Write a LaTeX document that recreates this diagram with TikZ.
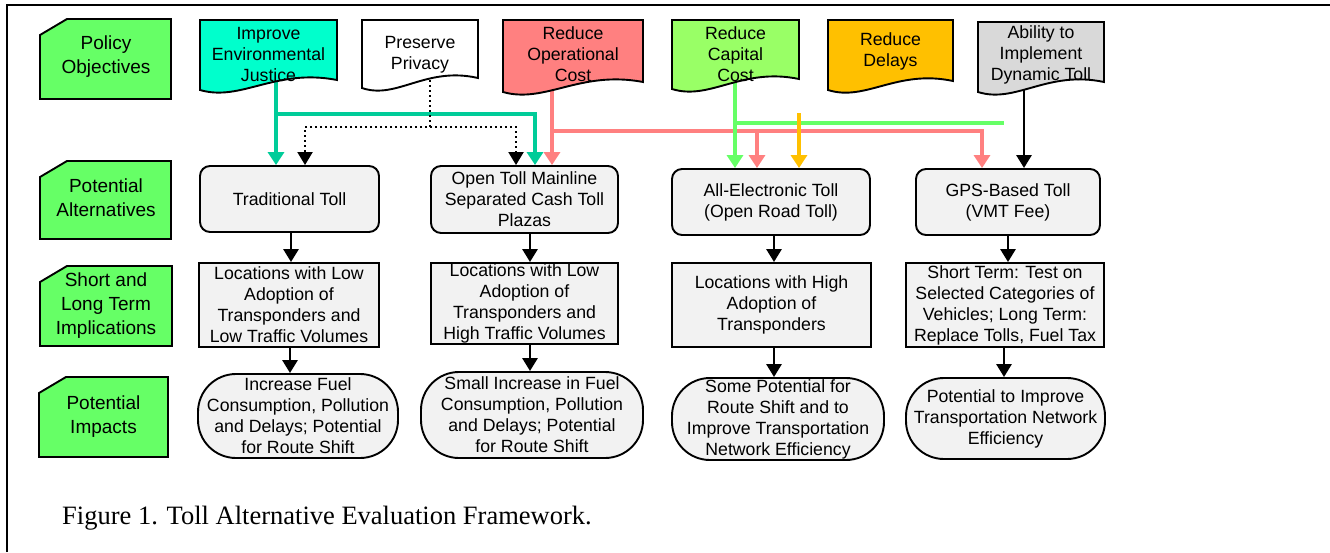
\documentclass[tikz,border=0pt]{standalone}
\usepackage{fontspec}
\setmainfont{Liberation Sans}
\newfontfamily\capfont{Liberation Serif}
\usetikzlibrary{arrows.meta,calc}
\pgfdeclarelayer{bg}
\pgfsetlayers{bg,main}
\definecolor{labgreen}{RGB}{102,255,102}
\definecolor{tealfill}{RGB}{0,255,204}
\definecolor{tealline}{RGB}{0,204,153}
\definecolor{pinkc}{RGB}{255,128,128}
\definecolor{capgreen}{RGB}{153,255,102}
\definecolor{greenline}{RGB}{102,255,102}
\definecolor{orangec}{RGB}{255,192,0}
\definecolor{greyc}{RGB}{217,217,217}
\definecolor{boxfill}{RGB}{242,242,242}
\newcommand{\cardshape}[4]{\filldraw[outline,fill=labgreen] (#1,{#2+16}) -- ({#1+27},#2) -- (#3,#2) -- (#3,#4) -- (#1,#4) -- cycle;}
\newcommand{\docshape}[6]{\filldraw[outline,fill=#6] (#1,#3) -- (#2,#3) -- (#2,#4) .. controls ({#1+0.55*(#2-#1)},{#4-12}) and ({#1+0.3*(#2-#1)},{#5+12}) .. (#1,#5) -- cycle;}
\begin{document}
\begin{tikzpicture}[x=1pt,y=-1pt,
  outline/.style={draw=black,line width=1.9pt},
  labtext/.style={align=center,inner sep=0pt,font=\fontsize{19}{24}\selectfont},
  bodytext/.style={align=center,inner sep=0pt,font=\fontsize{17.7}{21}\selectfont},
  altbox/.style={outline,fill=boxfill,rounded corners=10pt,bodytext},
  implbox/.style={outline,fill=boxfill,bodytext},
  impbox/.style={outline,fill=boxfill,rounded corners=38pt,bodytext},
  arr/.style={line width=3.4pt,-{Triangle[length=13pt,width=16pt]}},
  blackarr/.style={line width=2.8pt,-{Triangle[length=13pt,width=15pt]}},
  dotarr/.style={line width=2pt,dash pattern=on 2pt off 3pt,-{Triangle[length=13pt,width=15pt,sep=0pt]}},
]
\useasboundingbox (0,0) rectangle (1330,552);
\draw[line width=2.2pt] (7,552) -- (7,5) -- (1330,5);

% left labels
\cardshape{40}{19}{171}{99}
\cardshape{40}{161}{171}{239}
\cardshape{40}{266}{172}{346}
\cardshape{39}{377}{168}{457}
\node[labtext] (lpo) at (106,57) {Policy\\Objectives};
\node[labtext] (lpa) at (106,198) {Potential\\Alternatives};
\node[labtext] (lsl) at (106,306) {Short and\\Long Term\\Implications};
\node[labtext] (lpi) at (103.5,417) {Potential\\Impacts};

% objectives
\docshape{200}{337}{20}{80}{90}{tealfill}
\docshape{362}{478}{20}{78}{88}{white}
\docshape{503}{643}{20}{82}{92}{pinkc}
\docshape{672}{799}{20}{79}{89}{capgreen}
\docshape{828}{953}{20}{81}{90}{orangec}
\docshape{978}{1104}{22}{82}{92}{greyc}
\node[bodytext] (imp) at (268.5,54) {Improve\\Environmental\\Justice};
\node[bodytext] (pp) at (420,55) {Preserve\\Privacy};
\node[bodytext] (op) at (573,54) {Reduce\\Operational\\Cost};
\node[bodytext] (cc) at (735.5,54) {Reduce\\Capital\\Cost};
\node[bodytext] (rd) at (890.5,51) {Reduce\\Delays};
\node[bodytext] (ab) at (1041,55) {Ability to\\Implement\\Dynamic Toll};

% alternatives
\node[altbox,minimum width=179pt,minimum height=66pt] (a1) at (289.5,199) {Traditional Toll};
\node[altbox,minimum width=187pt,minimum height=67pt] (a2) at (524.5,199.5) {Open Toll Mainline\\Separated Cash Toll\\Plazas};
\node[altbox,minimum width=198pt,minimum height=66pt] (a3) at (771,202) {All-Electronic Toll\\(Open Road Toll)};
\node[altbox,minimum width=184pt,minimum height=66pt] (a4) at (1008,202) {GPS-Based Toll\\(VMT Fee)};

% implications
\node[implbox,minimum width=180pt,minimum height=84pt] (b1) at (289,305) {Locations with Low\\Adoption of\\Transponders and\\Low Traffic Volumes};
\node[implbox,minimum width=187pt,minimum height=81pt] (b2) at (524.5,303.5) {Locations with Low\\Adoption of\\Transponders and\\High Traffic Volumes};
\node[implbox,minimum width=199pt,minimum height=84pt] (b3) at (771.5,305) {Locations with High\\Adoption of\\Transponders};
\node[implbox,minimum width=198pt,minimum height=84pt] (b4) at (1005,305) {Short Term: Test on\\Selected Categories of\\Vehicles; Long Term:\\Replace Tolls, Fuel Tax};

% impacts
\node[impbox,minimum width=200pt,minimum height=84pt] (c1) at (298,416) {Increase Fuel\\Consumption, Pollution\\and Delays; Potential\\for Route Shift};
\node[impbox,minimum width=222pt,minimum height=86pt] (c2) at (532,415) {Small Increase in Fuel\\Consumption, Pollution\\and Delays; Potential\\for Route Shift};
\node[impbox,minimum width=212pt,minimum height=82pt] (c3) at (778,419) {Some Potential for\\Route Shift and to\\Improve Transportation\\Network Efficiency};
\node[impbox,minimum width=199pt,minimum height=81pt] (c4) at (1005.5,418.5) {Potential to Improve\\Transportation Network\\Efficiency};

% caption
\node[anchor=base west,inner sep=0pt,font=\capfont\fontsize{26.5}{30}\selectfont] (cap) at (62,524) {Figure 1. Toll Alternative Evaluation Framework.};

% connectors
\coordinate (tealc) at (535,114);
\coordinate (dl) at (305,127);
\coordinate (dr) at (516,127);
\coordinate (pk1) at (757,131);
\coordinate (pk2) at (982,131);
\coordinate (gend) at (1004,123);
\coordinate (ostart) at (799,113);
\begin{pgfonlayer}{bg}
\draw[arr,tealline] ([xshift=7.5pt]imp.center) -- ([xshift=7.5pt]imp.center |- a1.north);
\draw[arr,tealline] ([xshift=7.5pt]imp.center) |- (tealc) -- (tealc |- a2.north);
\draw[dotarr] ([xshift=10pt]pp.center) |- (dl) -- (dl |- a1.north);
\draw[dotarr] ([xshift=10pt]pp.center |- dr) -- (dr) -- (dr |- a2.north);
\draw[arr,pinkc] ([xshift=-21pt]op.center) -- ([xshift=-21pt]op.center |- a2.north);
\draw[arr,pinkc] ([xshift=-21pt]op.center |- pk1) -- (pk1) -- (pk1 |- a3.north);
\draw[arr,pinkc] (pk1) -- (pk2) -- (pk2 |- a4.north);
\draw[arr,greenline] ([xshift=-0.5pt]cc.center) -- ([xshift=-0.5pt]cc.center |- a3.north);
\draw[line width=3.4pt,greenline] ([xshift=-0.5pt]cc.center |- gend) -- (gend);
\draw[arr,orangec] (ostart) -- (ostart |- a3.north);
\draw[blackarr] ([xshift=-17pt]ab.center) -- ([xshift=-17pt]ab.center |- a4.north);
\draw[blackarr] ([xshift=1.5pt]a1.south) -- ([xshift=1.5pt]a1.south |- b1.north);
\draw[blackarr] ([xshift=1pt]b1.south) -- ([xshift=1pt]b1.south |- c1.north);
\draw[blackarr] ([xshift=5.5pt]a2.south) -- ([xshift=5.5pt]a2.south |- b2.north);
\draw[blackarr] ([xshift=5.5pt]b2.south) -- ([xshift=5.5pt]b2.south |- c2.north);
\draw[blackarr] ([xshift=3pt]a3.south) -- ([xshift=3pt]a3.south |- b3.north);
\draw[blackarr] ([xshift=2.5pt]b3.south) -- ([xshift=2.5pt]b3.south |- c3.north);
\draw[blackarr] (a4.south) -- (a4.south |- b4.north);
\draw[blackarr] ([xshift=-1pt]b4.south) -- ([xshift=-1pt]b4.south |- c4.north);
\end{pgfonlayer}
\end{tikzpicture}
\end{document}
